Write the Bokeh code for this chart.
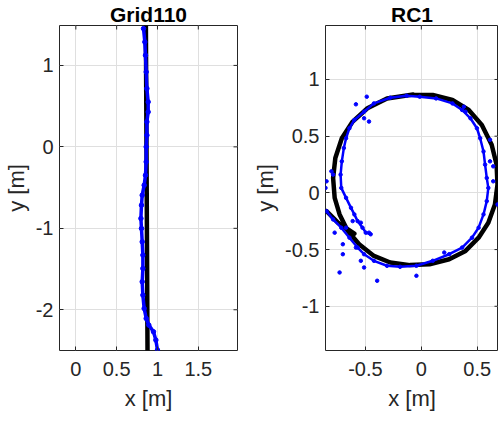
import math
from bokeh.plotting import figure
from bokeh.layouts import row
from bokeh.models import Range1d, FixedTicker
from bokeh.embed import file_html
from bokeh.resources import INLINE

# ---------------- data: Grid110 ----------------
grid_title = "Grid110"
grid_xlim = (-0.2, 1.98)
grid_ylim = (-2.5, 1.49)
grid_gt_x = [0.878, 0.858]
grid_gt_y = [-2.50, 1.48]
grid_est_x = [0.829, 0.845, 0.853, 0.862, 0.870, 0.886, 0.886, 0.870, 0.870, 0.862,
              0.862, 0.853, 0.837, 0.813, 0.804, 0.797, 0.804, 0.813, 0.821, 0.821,
              0.813, 0.821, 0.837, 0.862, 0.894, 0.951, 0.980, 1.000]
grid_est_y = [1.452, 1.288, 1.125, 0.920, 0.716, 0.552, 0.429, 0.307, 0.143, 0.000,
              -0.184, -0.348, -0.470, -0.593, -0.716, -0.879, -1.002, -1.166, -1.329, -1.493,
              -1.656, -1.820, -1.984, -2.107, -2.188, -2.270, -2.372, -2.495]
grid_xticks = [0, 0.5, 1, 1.5]
grid_xlabels = ["0", "0.5", "1", "1.5"]
grid_yticks = [-2, -1, 0, 1]
grid_ylabels = ["-2", "-1", "0", "1"]

# ---------------- data: RC1 ----------------
rc_title = "RC1"
rc_xlim = (-0.857, 0.69)
rc_ylim = (-1.39, 1.476)
rc_lead_x = [-0.848, -0.746, -0.599]
rc_lead_y = [-0.161, -0.263, -0.360]
rc_gt_x = [-0.073, -0.307, -0.482, -0.614, -0.711, -0.769, -0.789, -0.775, -0.731, -0.658,
           -0.556, -0.424, -0.278, -0.102, 0.073, 0.249, 0.395, 0.512, 0.599, 0.658,
           0.681, 0.673, 0.629, 0.541, 0.424, 0.278, 0.102, -0.073]
rc_gt_y = [0.868, 0.833, 0.746, 0.629, 0.482, 0.307, 0.132, -0.044, -0.190, -0.336,
           -0.453, -0.556, -0.614, -0.637, -0.629, -0.585, -0.512, -0.395, -0.263, -0.102,
           0.073, 0.249, 0.424, 0.599, 0.731, 0.819, 0.863, 0.868]
rc_est_x = [-0.848, -0.789, -0.716, -0.643, -0.570, -0.512, -0.424, -0.307, -0.190, -0.044,
            0.102, 0.249, 0.365, 0.453, 0.512, 0.556, 0.585, 0.599, 0.585, 0.570,
            0.556, 0.526, 0.497, 0.439, 0.365, 0.278, 0.132, -0.015, -0.132, -0.278,
            -0.424, -0.512, -0.599, -0.643, -0.673, -0.693, -0.711, -0.722, -0.716, -0.673,
            -0.629, -0.599, -0.570, -0.526, -0.497, -0.453]
rc_est_y = [-0.161, -0.234, -0.307, -0.395, -0.482, -0.541, -0.599, -0.643, -0.652, -0.643,
            -0.599, -0.541, -0.482, -0.395, -0.307, -0.190, -0.073, 0.044, 0.132, 0.249,
            0.365, 0.482, 0.570, 0.658, 0.731, 0.789, 0.833, 0.848, 0.857, 0.839,
            0.789, 0.716, 0.643, 0.570, 0.482, 0.395, 0.278, 0.161, 0.044, -0.044,
            -0.132, -0.190, -0.249, -0.307, -0.351, -0.365]
rc_out_x = [-0.585, -0.488, -0.468, -0.848, -0.857, -0.789, 0.614, 0.643, 0.681, 0.380,
            -0.702, -0.731, -0.512, -0.395, -0.044, -0.673, -0.775, -0.702, -0.585, -0.541,
            -0.614, -0.804, -0.468, -0.541, -0.512, 0.395, 0.614, 0.643, 0.205]
rc_out_y = [0.781, 0.848, 0.629, 0.102, 0.044, 0.161, 0.468, 0.234, -0.102, 0.760,
            -0.541, -0.702, -0.658, -0.775, -0.731, -0.307, -0.351, -0.453, -0.482, -0.599,
            -0.249, 0.190, -0.351, -0.263, 0.658, 0.716, 0.278, 0.102, -0.526]
rc_xticks = [-0.5, 0, 0.5]
rc_xlabels = ["-0.5", "0", "0.5"]
rc_yticks = [-1, -0.5, 0, 0.5, 1]
rc_ylabels = ["-1", "-0.5", "0", "0.5", "1"]

FONT = "Liberation Sans"
AX = "#262626"
GRID = "#dfdfdf"
BLUE = "#0000ff"


def make(title, xr, yr, xt, xl, yt, yl, fw, fh, mbl, mbr):
    p = figure(frame_width=fw, frame_height=fh, x_range=Range1d(*xr), y_range=Range1d(*yr),
               output_backend="svg", toolbar_location=None,
               min_border_left=mbl, min_border_right=mbr, min_border_top=23, min_border_bottom=0)
    p.background_fill_color = "white"
    p.border_fill_color = "white"
    p.outline_line_color = AX
    p.outline_line_width = 1
    p.outline_line_alpha = 1
    p.title.text = title
    p.title.align = "center"
    p.title.text_font = FONT
    p.title.text_font_size = "21px"
    p.title.text_font_style = "bold"
    p.title.text_color = "black"
    p.title.standoff = 0
    p.xaxis.ticker = FixedTicker(ticks=xt)
    p.yaxis.ticker = FixedTicker(ticks=yt)
    p.xaxis.major_label_overrides = {float(t): s for t, s in zip(xt, xl)}
    p.yaxis.major_label_overrides = {float(t): s for t, s in zip(yt, yl)}
    p.xaxis.axis_label = "x [m]"
    p.yaxis.axis_label = "y [m]"
    for ax in (p.xaxis[0], p.yaxis[0]):
        ax.axis_line_color = None
        ax.major_tick_in = 4
        ax.major_tick_out = 0
        ax.major_tick_line_color = AX
        ax.minor_tick_line_color = None
        ax.major_label_text_font = FONT
        ax.major_label_text_font_size = "20px"
        ax.major_label_text_color = AX
        ax.axis_label_text_font = FONT
        ax.axis_label_text_font_size = "22px"
        ax.axis_label_text_font_style = "normal"
        ax.axis_label_text_color = AX
    p.xaxis.major_label_standoff = 11
    p.xaxis.axis_label_standoff = 7
    p.yaxis.major_label_standoff = 6
    p.yaxis.axis_label_standoff = 4
    p.xgrid.grid_line_color = GRID
    p.ygrid.grid_line_color = GRID
    # inward box ticks on the top and right edges (half of each dash is clipped by the frame)
    p.scatter(xt, [yr[1]] * len(xt), marker="dash", angle=math.pi / 2, size=8,
              line_color=AX, line_width=1)
    p.scatter([xr[1]] * len(yt), yt, marker="dash", angle=0, size=8,
              line_color=AX, line_width=1)
    return p


p1 = make(grid_title, grid_xlim, grid_ylim, grid_xticks, grid_xlabels,
          grid_yticks, grid_ylabels, 178, 325, 53, 13)
p1.line(grid_gt_x, grid_gt_y, color="black", line_width=4.5, line_cap="round")
p1.line(grid_est_x, grid_est_y, color=BLUE, line_width=3.5, line_join="round")
p1.scatter(grid_est_x, grid_est_y, size=4.5, color=BLUE)

p2 = make(rc_title, rc_xlim, rc_ylim, rc_xticks, rc_xlabels,
          rc_yticks, rc_ylabels, 173, 325, 70, 0)
p2.line(rc_gt_x, rc_gt_y, color="black", line_width=4.5, line_cap="round", line_join="round")
p2.line(rc_lead_x, rc_lead_y, color="black", line_width=4.5, line_cap="round", line_join="round")
p2.line(rc_est_x, rc_est_y, color=BLUE, line_width=2.5, line_join="round")
p2.scatter(rc_est_x, rc_est_y, size=3.5, color=BLUE)
p2.scatter(rc_out_x, rc_out_y, size=3.5, color=BLUE)

layout = row(p1, p2)
open("out.html", "w").write(file_html(layout, INLINE))
